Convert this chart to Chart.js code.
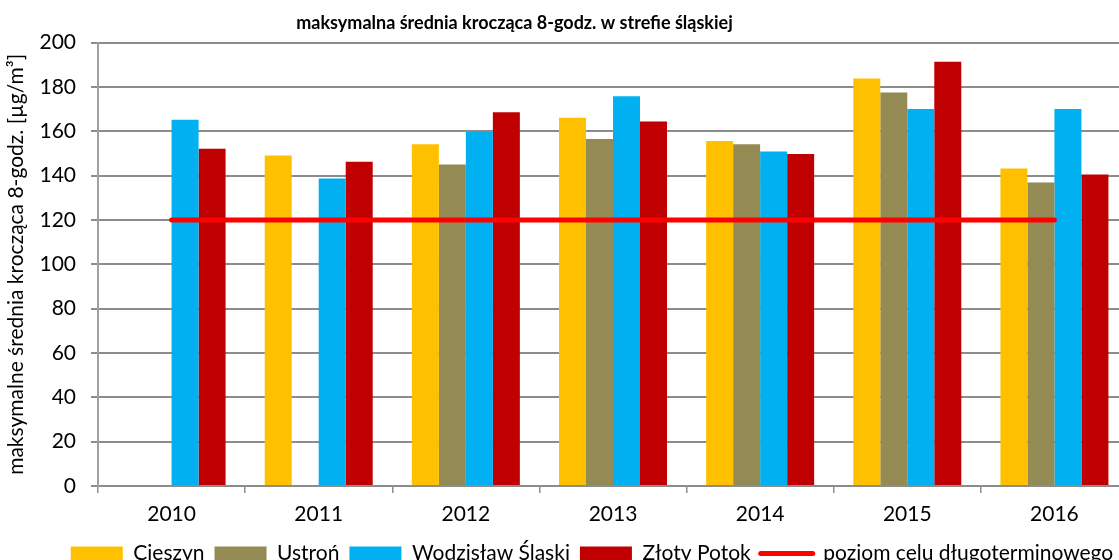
<!DOCTYPE html>
<html lang="pl">
<head>
<meta charset="utf-8">
<title>maksymalna średnia krocząca 8-godz.</title>
<script src="https://cdn.jsdelivr.net/npm/chart.js@4"></script>
<style>
  html, body { margin: 0; padding: 0; background: #fff; overflow: hidden; }
  #wrap { width: 1128px; height: 560px; position: relative; }
</style>
</head>
<body>
<div id="wrap"><canvas id="ozonChart"></canvas></div>
<script>
// lata pomiarowe
const years = ['2010', '2011', '2012', '2013', '2014', '2015', '2016'];

// maksymalna średnia 8-godz. na stacjach [µg/m3]
const cieszyn = [null, 149.1, 154.1, 166.1, 155.6, 183.8, 143.2];
const ustron = [null, null, 145.0, 156.5, 154.1, 177.5, 136.9];
const wodzislaw = [165.2, 138.7, 159.8, 175.8, 150.9, 170.0, 170.0];
const zlotyPotok = [152.1, 146.3, 168.6, 164.4, 149.8, 191.4, 140.5];

// poziom celu długoterminowego
const poziomCelu = [120, 120, 120, 120, 120, 120, 120];

const yTicks = [0, 20, 40, 60, 80, 100, 120, 140, 160, 180, 200];

const gridColor = '#8c8c8c';
Chart.defaults.font.family = 'Lato, "Noto Sans", sans-serif';
Chart.defaults.color = '#000';

function barSet(label, data, color) {
    return {
        type: 'bar',
        label: label,
        data: data,
        backgroundColor: color,
        borderWidth: 0,
        categoryPercentage: 0.734,
        barPercentage: 1,
        order: 1
    };
}

// tytuł i legenda nie są wyśrodkowane względem całego płótna
const shiftBlocks = {
    id: 'shiftBlocks',
    afterLayout(chart) {
        chart.titleBlock.left = 0;
        chart.titleBlock.right = 1029;
        chart.legend.left = 56;
        chart.legend.right = 1128;
    }
};

const ctx = document.getElementById('ozonChart').getContext('2d');
new Chart(ctx, {
    data: {
        labels: years,
        datasets: [
            barSet('Cieszyn', cieszyn, '#ffc000'),
            barSet('Ustroń', ustron, '#948a54'),
            barSet('Wodzisław Śląski', wodzislaw, '#00b0f0'),
            barSet('Złoty Potok', zlotyPotok, '#c00000'),
            {
                type: 'line',
                label: 'poziom celu długoterminowego',
                data: poziomCelu,
                borderColor: '#ff0000',
                backgroundColor: '#ff0000',
                borderWidth: 5,
                borderCapStyle: 'round',
                pointRadius: 0,
                pointHoverRadius: 0,
                order: 0
            }
        ]
    },
    plugins: [shiftBlocks],
    options: {
        responsive: true,
        maintainAspectRatio: false,
        animation: false,
        layout: { padding: { left: 0, right: 0, top: 0, bottom: -14 } },
        plugins: {
            title: {
                display: true,
                text: 'maksymalna średnia krocząca 8-godz. w strefie śląskiej',
                font: { size: 18, weight: 'bold' },
                color: '#000',
                padding: { top: 12, bottom: 9 }
            },
            legend: {
                position: 'bottom',
                labels: {
                    sort: (a, b) => a.datasetIndex - b.datasetIndex,
                    usePointStyle: true,
                    pointStyleWidth: 52,
                    boxHeight: 14,
                    padding: 10,
                    font: { size: 21 },
                    color: '#000',
                    generateLabels(chart) {
                        const items = Chart.defaults.plugins.legend.labels.generateLabels(chart);
                        items.forEach(item => {
                            if (item.datasetIndex === 4) {
                                item.pointStyle = 'line';
                                item.lineWidth = 5;
                                item.lineCap = 'round';
                            } else {
                                item.pointStyle = 'rect';
                                item.lineWidth = 0;
                            }
                        });
                        return items;
                    }
                }
            },
            tooltip: { enabled: false }
        },
        scales: {
            x: {
                grid: {
                    offset: true,
                    drawOnChartArea: false,
                    tickLength: 7,
                    color: gridColor,
                    lineWidth: 1.5
                },
                border: { color: gridColor, width: 2 },
                ticks: { font: { size: 21 }, color: '#000', padding: 9, maxRotation: 0 },
                afterFit(scale) { scale.height = 47; }
            },
            y: {
                min: 0,
                max: 200,
                afterBuildTicks(scale) { scale.ticks = yTicks.map(v => ({ value: v })); },
                grid: { color: gridColor, lineWidth: 2, tickLength: 7 },
                border: { color: '#a0a0a0', width: 2 },
                ticks: { font: { size: 21 }, color: '#000', padding: 15 },
                title: {
                    display: true,
                    text: 'maksymalne średnia krocząca 8-godz. [µg/m³]',
                    font: { size: 21 },
                    color: '#000',
                    padding: { top: 4, bottom: 0 }
                },
                afterFit(scale) { scale.width = 98; }
            }
        }
    }
});
</script>
</body>
</html>
